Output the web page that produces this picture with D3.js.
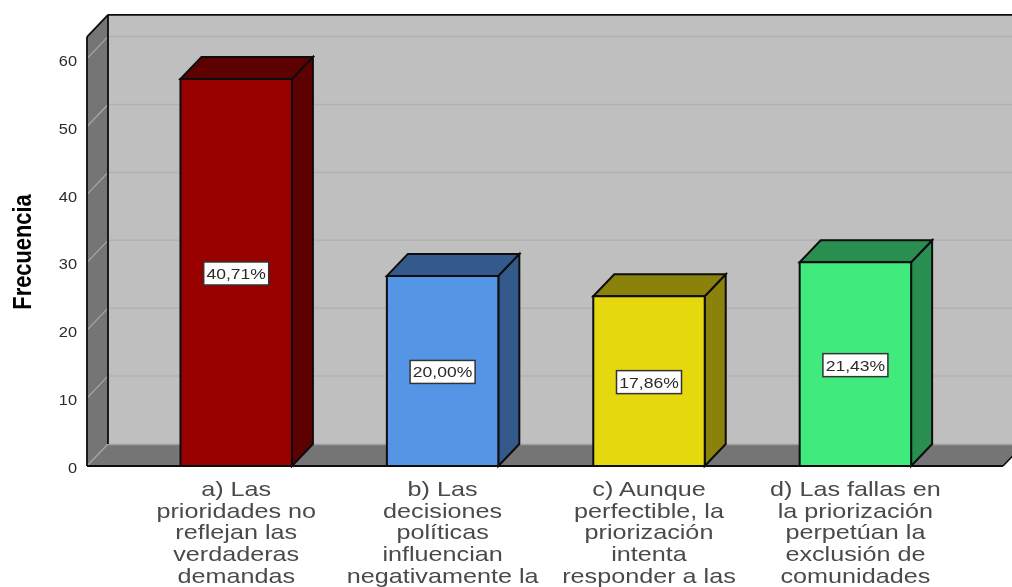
<!DOCTYPE html>
<html><head><meta charset="utf-8">
<script src="https://cdn.jsdelivr.net/npm/d3@7/dist/d3.min.js"></script>
<style>html,body{margin:0;padding:0;background:#fff;overflow:hidden}svg{display:block;filter:blur(0.4px)}text{font-family:"Liberation Sans",Arial,sans-serif}</style>
</head><body><div id="c"></div>
<script>
const categories=["a","b","c","d"];
const labels=[
 ["a) Las","prioridades no","reflejan las","verdaderas","demandas"],
 ["b) Las","decisiones","políticas","influencian","negativamente la"],
 ["c) Aunque","perfectible, la","priorización","intenta","responder a las"],
 ["d) Las fallas en","la priorización","perpetúan la","exclusión de","comunidades"]];
const frequencies=[57,28,25,30];
const percentLabels=["40,71%","20,00%","17,86%","21,43%"];
const faceColors=["#990000","#5495E6","#E6D80F","#40EA7C"];
const sideColors=["#5C0000","#335A8A","#8A820A","#288F50"];
const yTicks=[0,10,20,30,40,50,60];
const W=1012,H=587,dx=21,dy=-22,ink="#0d0d0d";
const y=d3.scaleLinear().domain([0,60]).range([466,58.6]);
const yMax=63.2;
const x=d3.scaleBand().domain(categories).range([133,958.6]).paddingInner(0.46).paddingOuter(0.23);
const svg=d3.select("#c").append("svg").attr("width",W).attr("height",H);
const poly=(pts,fill,stroke,sw)=>svg.append("path").attr("d",d3.line()(pts)+"Z").attr("fill",fill).attr("stroke",stroke||"none").attr("stroke-width",sw||0);
const L=87,R=1003;
// walls
poly([[L+dx,y(yMax)+dy],[R+dx+20,y(yMax)+dy],[R+dx+20,y(0)+dy],[L+dx,y(0)+dy]],"#BFBFBF");
poly([[L,y(0)],[L+dx,y(0)+dy],[R+dx+20,y(0)+dy],[R+dx,y(0)+dy],[R,y(0)]],"#757575");
poly([[L,y(0)],[L,y(yMax)],[L+dx,y(yMax)+dy],[L+dx,y(0)+dy]],"#757575");
// gridlines
yTicks.forEach(t=>{
 if(t>0) svg.append("line").attr("x1",L+dx).attr("x2",W).attr("y1",y(t)+dy).attr("y2",y(t)+dy).attr("stroke","#B2B2B2").attr("stroke-width",1.5);
 svg.append("line").attr("x1",L).attr("x2",L+dx).attr("y1",y(t)).attr("y2",y(t)+dy).attr("stroke","#A8A8A8").attr("stroke-width",1.2);
});
svg.append("line").attr("x1",L+dx).attr("x2",W).attr("y1",y(0)+dy+0.5).attr("y2",y(0)+dy+0.5).attr("stroke","#A0A0A0").attr("stroke-width",1.5);
// frame
const fr=(a,b,sw)=>svg.append("line").attr("x1",a[0]).attr("y1",a[1]).attr("x2",b[0]).attr("y2",b[1]).attr("stroke",ink).attr("stroke-width",sw);
fr([L,y(0)],[L,y(yMax)],1.8);
fr([L,y(yMax)],[L+dx,y(yMax)+dy],1.8);
fr([L+dx,y(yMax)+dy],[L+dx,y(0)+dy],1.8);
fr([L+dx,y(yMax)+dy],[W,y(yMax)+dy],1.8);
fr([L,y(0)],[R,y(0)],2);
fr([R,y(0)],[R+dx,y(0)+dy],1.6);
// bars
categories.forEach((c,i)=>{
 const x0=x(c),x1=x0+x.bandwidth(),yt=y(frequencies[i]),yb=y(0);
 poly([[x1,yb],[x1+dx,yb+dy],[x1+dx,yt+dy],[x1,yt]],sideColors[i],ink,2);
 poly([[x0,yt],[x0+dx,yt+dy],[x1+dx,yt+dy],[x1,yt]],sideColors[i],ink,2);
 poly([[x0,yb],[x0,yt],[x1,yt],[x1,yb]],faceColors[i],ink,2);
 const cx=(x0+x1)/2, cy=y(frequencies[i]/2);
 svg.append("rect").attr("x",cx-32.5).attr("y",cy-10.5).attr("width",65).attr("height",23).attr("fill","#fff").attr("stroke","#333").attr("stroke-width",1.5);
 svg.append("text").attr("transform",`translate(${cx},${cy+6.5}) scale(1.17,1)`).attr("text-anchor","middle").attr("font-size",15).attr("fill","#2a2a2a").text(percentLabels[i]);
 const t=svg.append("g").attr("fill","#4a4a4a").attr("text-anchor","middle").attr("font-size",20);
 labels[i].forEach((s,j)=>t.append("text").attr("transform",`translate(${cx},${495.7+j*21.8}) scale(1.26,1)`).text(s));
});
// y axis
const ax=svg.append("g").attr("transform","translate(77,2)").call(d3.axisLeft(y).tickValues(yTicks).tickSize(0).tickPadding(0).tickFormat(d3.format("d")));
ax.select(".domain").remove();
ax.selectAll("text").attr("font-size",14.5).attr("fill","#2a2a2a").attr("font-family",'"Liberation Sans",Arial,sans-serif').attr("transform","scale(1.13,1)").attr("x",0);
svg.append("text").attr("transform","translate(31,252) rotate(-90) scale(0.84,1)").attr("text-anchor","middle").attr("font-size",26).attr("font-weight","bold").attr("fill","#000").text("Frecuencia");
</script></body></html>
